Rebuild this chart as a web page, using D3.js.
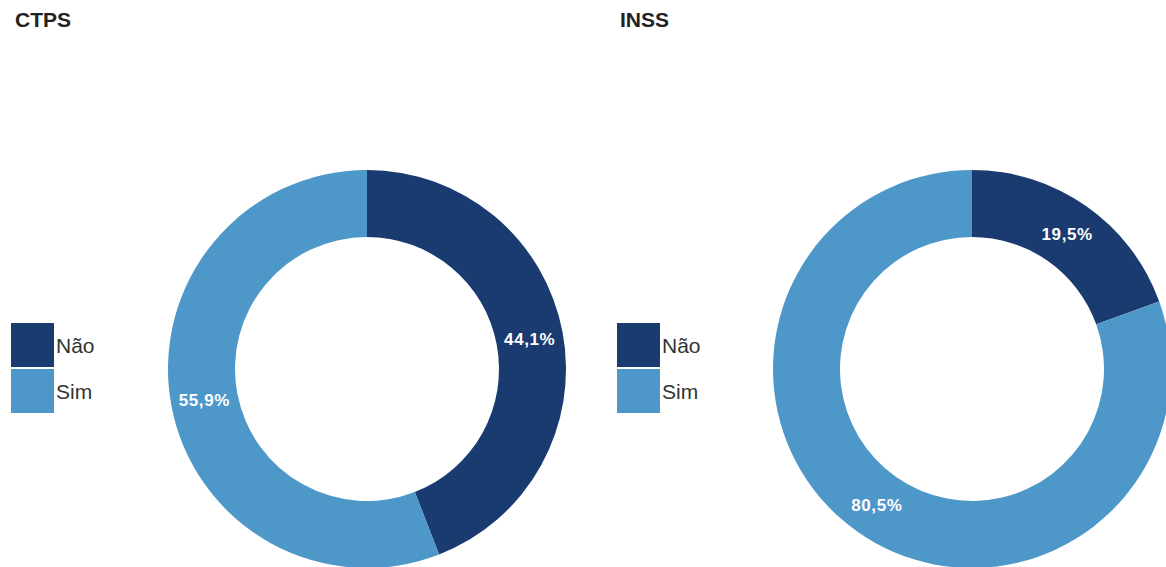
<!DOCTYPE html>
<html><head><meta charset="utf-8">
<script src="https://cdn.jsdelivr.net/npm/d3@7"></script>
<style>body{margin:0;background:#fff;}svg{display:block;font-family:"Liberation Sans",Arial,Helvetica,sans-serif;}</style>
</head><body>
<svg id="chart" width="1166" height="567"></svg>
<script>
const categories = ["Não", "Sim"];
const panelTitles = ["CTPS", "INSS"];
const ctpsValues = [44.1, 55.9];
const inssValues = [19.5, 80.5];
const colors = ["#193b70", "#4e97c9"];

const svg = d3.select("#chart");
const color = d3.scaleOrdinal().domain(categories).range(colors);
const panels = [
  {title: panelTitles[0], values: ctpsValues, ox: 0},
  {title: panelTitles[1], values: inssValues, ox: 605}
];
const outerR = 199, innerR = 132;
const pie = d3.pie().sort(null).value(d => d.v);
const arc = d3.arc().innerRadius(innerR).outerRadius(outerR);
const fmt = v => v.toFixed(1).replace(".", ",") + "%";

panels.forEach((p, pi) => {
  const g = svg.append("g").attr("transform", `translate(${p.ox},0)`);
  g.append("text").attr("x", 15).attr("y", 27).attr("font-size", 21).attr("font-weight", "bold")
    .attr("fill", "#222").text(p.title);
  const data = categories.map((c, i) => ({c, v: p.values[i]}));
  const cg = g.append("g").attr("transform", `translate(367,369)`);
  const arcs = pie(data);
  cg.selectAll("path").data(arcs).join("path")
    .attr("d", arc).attr("fill", d => color(d.data.c));
  cg.selectAll("text").data(arcs).join("text")
    .attr("transform", d => `translate(${arc.centroid(d)})`)
    .attr("text-anchor", "middle").attr("dy", "0.36em")
    .attr("font-size", 17).attr("font-weight", "bold").attr("letter-spacing", 0.6).attr("fill", "#fff")
    .text(d => fmt(d.data.v));
  const lg = g.append("g").attr("transform", `translate(${pi === 0 ? 11 : 12},323)`);
  const items = lg.selectAll("g").data(categories).join("g")
    .attr("transform", (d, i) => `translate(0,${i * 46})`);
  items.append("rect").attr("width", 43).attr("height", 44).attr("fill", d => color(d));
  items.append("text").attr("x", 45).attr("y", 30).attr("font-size", 21).attr("fill", "#333").text(d => d);
});
</script>
</body></html>
